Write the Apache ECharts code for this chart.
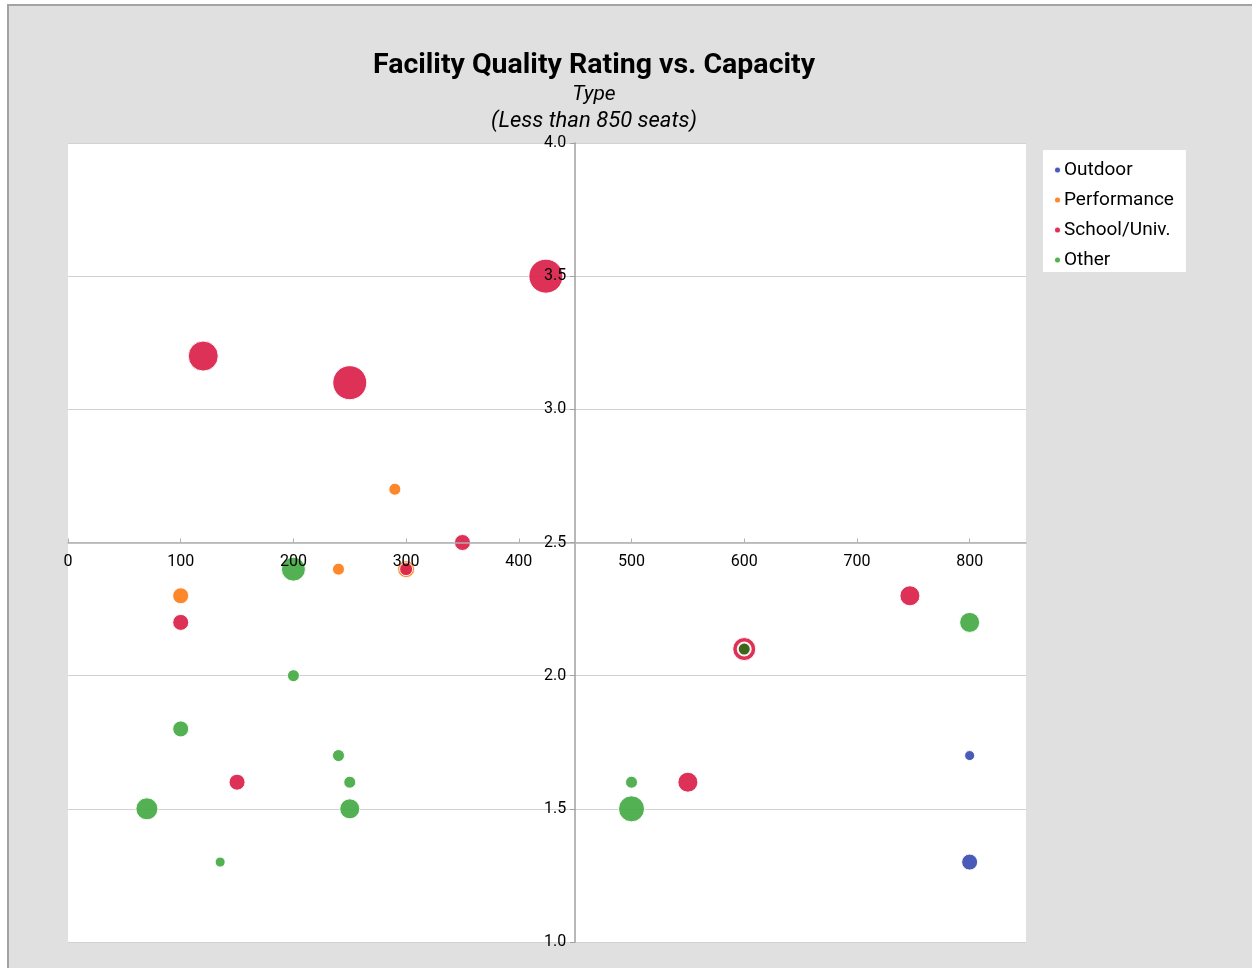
<!DOCTYPE html>
<html>
<head>
<meta charset="utf-8">
<script src="https://cdn.jsdelivr.net/npm/echarts@6/dist/echarts.min.js"></script>
<style>
html,body{margin:0;padding:0;background:#fff;overflow:hidden;}
#frame{position:absolute;left:7px;top:4px;width:1270px;height:990px;border:2px solid #a3a3a3;background:#e0e0e0;}
#chart{position:absolute;left:0;top:0;width:1252px;height:968px;}
</style>
</head>
<body>
<div id="frame"></div>
<div id="chart"></div>
<script>
// Categories
const seriesNames = ['Outdoor', 'Performance', 'School/Univ.', 'Other'];
const seriesColors = ['#3b4db4', '#fd7f1c', '#dc214a', '#46aa46'];
// Each point: [capacity, rating, bubble diameter]
const outdoor = [[800, 1.7, 10], [800, 1.3, 16]];
const performance = [[290, 2.7, 12], [240, 2.4, 12], [300, 2.4, 17], [100, 2.3, 16]];
const school = [[424, 3.5, 34], [120, 3.2, 30], [250, 3.1, 34], [350, 2.5, 16], [300, 2.4, 13],
  [100, 2.2, 16], [150, 1.6, 16], [600, 2.1, 23], [747, 2.3, 20], [550, 1.6, 20]];
const other = [[200, 2.4, 24], [200, 2.0, 12], [100, 1.8, 16], [70, 1.5, 22], [135, 1.3, 10],
  [240, 1.7, 12], [250, 1.6, 12], [250, 1.5, 20], [500, 1.6, 12], [500, 1.5, 26],
  [800, 2.2, 20], [600, 2.1, 13]];
const xTicks = { min: 0, max: 850, interval: 100 };
const yTicks = { min: 1.0, max: 4.0, interval: 0.5 };
const xCross = 450;   // y axis crosses x at this value
const yCross = 2.5;   // x axis crosses y at this value

const G = { left: 68, top: 143, width: 958, height: 799 };
const font = 'Roboto, "Liberation Sans", sans-serif';

const chart = echarts.init(document.getElementById('chart'), null, { renderer: 'canvas' });

const allData = [outdoor, performance, school, other];
const series = allData.map((d, i) => ({
  name: seriesNames[i],
  type: 'scatter',
  xAxisIndex: 0,
  yAxisIndex: 0,
  data: d.map(p => {
    const item = { value: p };
    if (i === 3 && p[0] === 600 && p[1] === 2.1) {
      item.itemStyle = { color: '#2f6c16', borderWidth: 2 };
    }
    return item;
  }),
  symbolSize: v => v[2],
  itemStyle: { color: seriesColors[i], opacity: 0.93, borderColor: '#fff', borderWidth: 1 },
  z: 2,
  emphasis: { disabled: true }
}));

chart.setOption({
  animation: false,
  backgroundColor: 'transparent',
  textStyle: { fontFamily: font },
  graphic: [
    { type: 'text', x: 594, y: 66, style: { text: 'Facility Quality Rating vs. Capacity', font: 'bold 28.5px ' + font, fill: '#000', align: 'center', verticalAlign: 'middle' } },
    { type: 'text', x: 594, y: 95, style: { text: 'Type', font: 'italic 21px ' + font, fill: '#000', align: 'center', verticalAlign: 'middle' } },
    { type: 'text', x: 594, y: 121, style: { text: '(Less than 850 seats)', font: 'italic 22px ' + font, fill: '#000', align: 'center', verticalAlign: 'middle' } }
  ],
  legend: {
    orient: 'vertical',
    left: 1043, top: 150,
    backgroundColor: '#fff',
    padding: [9, 12, 1, 10],
    itemWidth: 7, itemHeight: 7, itemGap: 8,
    icon: 'circle',
    data: seriesNames,
    textStyle: { fontSize: 19, color: '#000', fontFamily: font, lineHeight: 22, padding: [0, 0, 0, -2] }
  },
  grid: { left: G.left, top: G.top, width: G.width, height: G.height, show: true, backgroundColor: '#fff', borderWidth: 0 },
  xAxis: [{
    type: 'value',
    min: xTicks.min, max: xTicks.max, interval: xTicks.interval,
    position: 'bottom',
    offset: -G.height * (yCross - yTicks.min) / (yTicks.max - yTicks.min),
    z: 5,
    axisLine: { show: true, onZero: false, lineStyle: { color: '#b0b0b0', width: 1.5 } },
    axisTick: { show: true, inside: true, length: 4, lineStyle: { color: '#b0b0b0' } },
    axisLabel: { show: true, color: '#000', fontSize: 16, margin: 11, showMaxLabel: false, fontFamily: font },
    splitLine: { show: false }
  }],
  yAxis: [{
    type: 'value',
    min: yTicks.min, max: yTicks.max, interval: yTicks.interval,
    position: 'left',
    z: 0,
    axisLine: { show: false },
    axisTick: { show: false },
    axisLabel: { show: false },
    splitLine: { show: true, lineStyle: { color: '#d2d2d2', width: 1 } }
  }, {
    type: 'value',
    min: yTicks.min, max: yTicks.max, interval: yTicks.interval,
    position: 'left',
    offset: -G.width * (xCross - xTicks.min) / (xTicks.max - xTicks.min),
    z: 5,
    axisLine: { show: true, onZero: false, lineStyle: { color: '#a0a0a0', width: 1.5 } },
    axisTick: { show: true, length: 5, lineStyle: { color: '#a0a0a0' } },
    axisLabel: { show: true, color: '#000', fontSize: 16, margin: 9, fontFamily: font, formatter: v => v.toFixed(1) },
    splitLine: { show: false }
  }],
  series: series
});
</script>
</body>
</html>
